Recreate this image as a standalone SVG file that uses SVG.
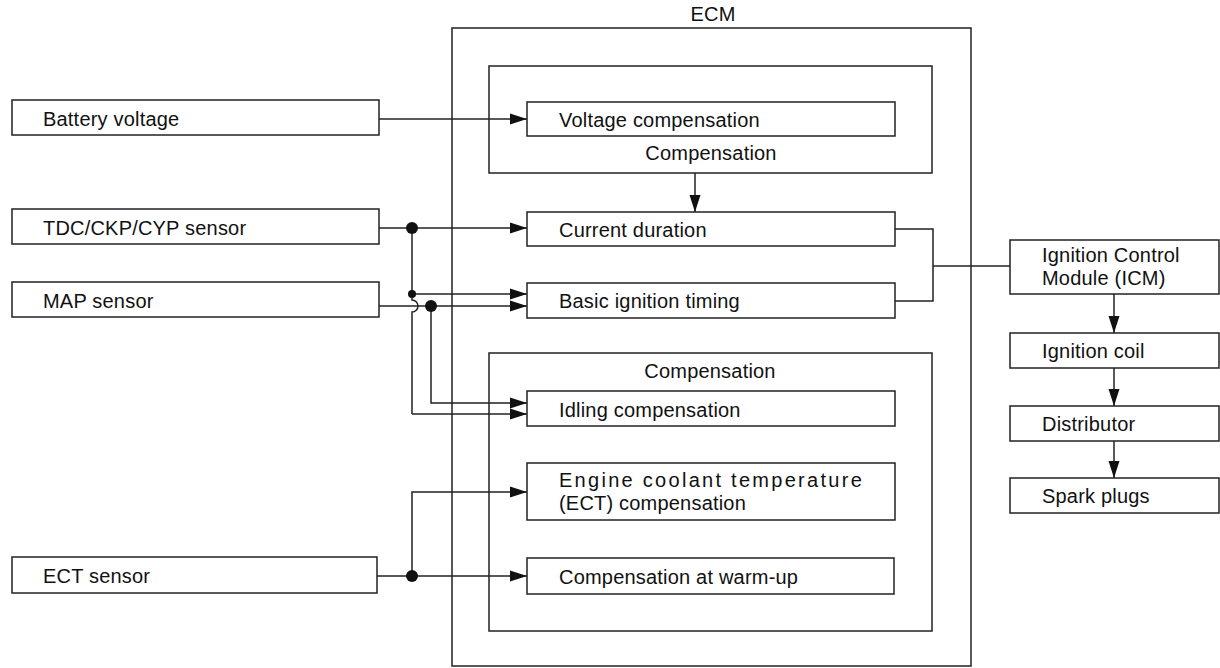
<svg xmlns="http://www.w3.org/2000/svg" width="1220" height="668" viewBox="0 0 1220 668">
<style>
  .box { fill: #fff; stroke: #222; stroke-width: 1.5; }
  .frame { fill: none; stroke: #222; stroke-width: 1.5; }
  .t { font-family: "Liberation Sans", Arial, sans-serif; font-size: 20px; fill: #111; letter-spacing: 0.2px; }
  .c { text-anchor: middle; }
  .wire { fill: none; stroke: #222; stroke-width: 1.5; }
  .arr { marker-end: url(#ah); }
  .dot { fill: #111; }
</style>
<defs>
  <marker id="ah" markerUnits="userSpaceOnUse" markerWidth="18" markerHeight="12" refX="17" refY="6" orient="auto">
    <path d="M0,0.5 L17,6 L0,11.5 Z" fill="#111"/>
  </marker>
</defs>
<rect width="1220" height="668" fill="#fff"/>

<g id="ecm">
  <rect class="frame" x="452" y="28" width="519" height="638"/>
  <text class="t c" x="713" y="21">ECM</text>
</g>
<g id="comp-top">
  <rect class="frame" x="489" y="66" width="443" height="107"/>
  <text class="t c" x="711" y="160">Compensation</text>
</g>
<g id="comp-bottom">
  <rect class="frame" x="489" y="353" width="443" height="278"/>
  <text class="t c" x="710" y="378">Compensation</text>
</g>

<g id="battery"><rect class="box" x="12" y="100" width="367" height="35"/><text class="t" x="43" y="126">Battery voltage</text></g>
<g id="tdc"><rect class="box" x="12" y="209" width="367" height="35"/><text class="t" x="43" y="235">TDC/CKP/CYP sensor</text></g>
<g id="map"><rect class="box" x="12" y="282" width="367" height="35"/><text class="t" x="43" y="308">MAP sensor</text></g>
<g id="ect"><rect class="box" x="12" y="557" width="365" height="36"/><text class="t" x="43" y="583">ECT sensor</text></g>

<g id="voltage-comp"><rect class="box" x="527" y="102" width="368" height="34"/><text class="t" x="559" y="127">Voltage compensation</text></g>
<g id="current-duration"><rect class="box" x="527" y="212" width="368" height="34"/><text class="t" x="559" y="237">Current duration</text></g>
<g id="basic-timing"><rect class="box" x="527" y="283" width="368" height="35"/><text class="t" x="559" y="308">Basic ignition timing</text></g>
<g id="idling-comp"><rect class="box" x="527" y="391" width="368" height="35"/><text class="t" x="559" y="417">Idling compensation</text></g>
<g id="ect-comp"><rect class="box" x="527" y="463" width="368" height="57"/>
  <text class="t" x="559" y="487" textLength="303" lengthAdjust="spacing">Engine coolant temperature</text>
  <text class="t" x="559" y="510">(ECT) compensation</text></g>
<g id="warmup-comp"><rect class="box" x="527" y="558" width="367" height="36"/><text class="t" x="559" y="584">Compensation at warm-up</text></g>

<g id="icm"><rect class="box" x="1010" y="240" width="209" height="54"/>
  <text class="t" x="1042" y="262">Ignition Control</text>
  <text class="t" x="1042" y="285">Module (ICM)</text></g>
<g id="coil"><rect class="box" x="1010" y="333" width="209" height="35"/><text class="t" x="1042" y="358">Ignition coil</text></g>
<g id="distributor"><rect class="box" x="1010" y="406" width="209" height="35"/><text class="t" x="1042" y="431">Distributor</text></g>
<g id="plugs"><rect class="box" x="1010" y="478" width="209" height="35"/><text class="t" x="1042" y="503">Spark plugs</text></g>

<g id="connectors">
  <path class="wire arr" d="M379,119 H527"/>
  <path class="wire arr" d="M695,173 V212"/>
  <path class="wire arr" d="M379,228 H527"/>
  <path class="wire" d="M412,228 V300 A6,6 0 0 1 412,312 V414"/>
  <path class="wire arr" d="M412,294 H527"/>
  <path class="wire arr" d="M412,414 H527"/>
  <path class="wire arr" d="M379,306 H527"/>
  <path class="wire arr" d="M431,306 V403 H527"/>
  <path class="wire arr" d="M377,576 H527"/>
  <path class="wire arr" d="M412,576 V492 H527"/>
  <path class="wire" d="M895,229 H933 V301 H895"/>
  <path class="wire" d="M933,266 H1010"/>
  <path class="wire arr" d="M1114,294 V333"/>
  <path class="wire arr" d="M1114,368 V406"/>
  <path class="wire arr" d="M1114,441 V478"/>
  <circle class="dot" cx="412" cy="228" r="6"/>
  <circle class="dot" cx="412" cy="294" r="4"/>
  <circle class="dot" cx="431" cy="306" r="6"/>
  <circle class="dot" cx="412" cy="576" r="6"/>
</g>
</svg>
